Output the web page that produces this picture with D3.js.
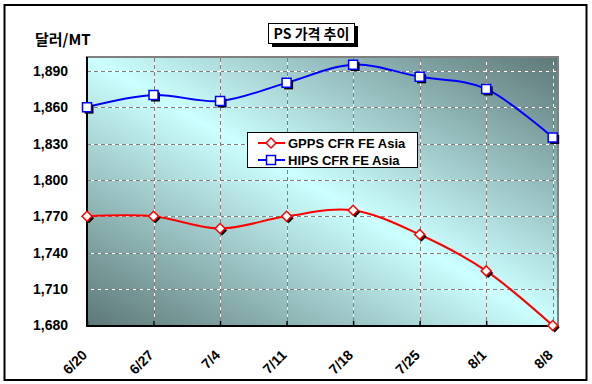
<!DOCTYPE html>
<html>
<head>
<meta charset="utf-8">
<script src="https://cdn.jsdelivr.net/npm/d3@7"></script>
<style>
  body { margin: 0; background: #fff; }
  text { font-family: "Liberation Sans", Arial, sans-serif; font-weight: bold; }
  .kr { font-family: "Noto Sans CJK KR", "Liberation Sans", sans-serif; font-weight: 700; }
</style>
</head>
<body>
<div id="chart"></div>
<script>
// data
var dates = ["6/20", "6/27", "7/4", "7/11", "7/18", "7/25", "8/1", "8/8"]
var gpps = [1770, 1770, 1760, 1770, 1775, 1755, 1725, 1680]
var hips = [1860, 1870, 1865, 1880, 1895, 1885, 1875, 1835]
var yTicks = [1680, 1710, 1740, 1770, 1800, 1830, 1860, 1890]
var seriesNames = ["GPPS CFR FE Asia", "HIPS CFR FE Asia"]

var width = 592, height = 384
var plot = { left: 87, top: 57, right: 558, bottom: 326 }

var svg = d3.select("#chart").append("svg")
  .attr("width", width)
  .attr("height", height)

var defs = svg.append("defs")
var grad = defs.append("linearGradient")
  .attr("id", "bg")
  .attr("x1", 0).attr("y1", 1)
  .attr("x2", 1).attr("y2", 0)
grad.append("stop").attr("offset", 0).attr("stop-color", "#5d7777")
grad.append("stop").attr("offset", 0.5).attr("stop-color", "#ccffff")
grad.append("stop").attr("offset", 1).attr("stop-color", "#5d7777")

// outer frame
svg.append("rect")
  .attr("x", 4.5).attr("y", 5)
  .attr("width", 582).attr("height", 375)
  .attr("fill", "white")
  .attr("stroke", "black")
  .attr("stroke-width", 2)

var x = d3.scalePoint().domain(dates).range([87, 552.7])
var y = d3.scaleLinear().domain([1680, 1900]).range([325.5, 58.6])

// plot area with gradient and grey border
svg.append("rect")
  .attr("x", plot.left).attr("y", plot.top)
  .attr("width", plot.right - plot.left).attr("height", plot.bottom - plot.top)
  .attr("fill", "url(#bg)")
  .attr("stroke", "#808080")
  .attr("stroke-width", 2)

// gridlines: grey + white dashes so they show on light and dark parts
var grid = svg.append("g")
function gridLine(x1, y1, x2, y2) {
  grid.append("line").attr("x1", x1).attr("y1", y1).attr("x2", x2).attr("y2", y2)
    .attr("stroke", "#808080").attr("stroke-dasharray", "4,3")
  grid.append("line").attr("x1", x1).attr("y1", y1).attr("x2", x2).attr("y2", y2)
    .attr("stroke", "#ffffff").attr("stroke-dasharray", "3,4").attr("stroke-dashoffset", -4)
}
yTicks.slice(1).forEach(function(t) { gridLine(plot.left, Math.round(y(t)) + 0.5, plot.right - 1, Math.round(y(t)) + 0.5) })
dates.slice(1).forEach(function(d) { gridLine(Math.round(x(d)) + 0.5, plot.top + 1, Math.round(x(d)) + 0.5, plot.bottom) })

// axes
var yAxis = svg.append("g")
  .attr("transform", "translate(" + plot.left + ",0)")
  .call(d3.axisLeft(y).tickValues(yTicks).tickSize(0).tickPadding(19).tickFormat(d3.format(",")))
yAxis.select(".domain").remove()
yAxis.selectAll("text").attr("font-size", 14).attr("fill", "black")
  .style("font-family", "'Liberation Sans', Arial, sans-serif")

var xAxis = svg.append("g")
  .attr("transform", "translate(0," + plot.bottom + ")")
  .call(d3.axisBottom(x).tickSize(-5).tickFormat(""))
xAxis.select(".domain").remove()
xAxis.selectAll("line").attr("stroke", "black").attr("stroke-width", 1.5)

svg.append("line").attr("x1", plot.left).attr("x2", plot.left)
  .attr("y1", plot.top).attr("y2", plot.bottom + 1)
  .attr("stroke", "black").attr("stroke-width", 2)
svg.append("line").attr("x1", plot.left - 1).attr("x2", 554)
  .attr("y1", plot.bottom).attr("y2", plot.bottom)
  .attr("stroke", "black").attr("stroke-width", 2)

// rotated date labels
svg.append("g").selectAll("text")
  .data(dates)
  .enter()
  .append("text")
  .attr("text-anchor", "end")
  .attr("font-size", 14)
  .attr("transform", function(d) { return "translate(" + (x(d) + 1) + ",356) rotate(-45)" })
  .text(function(d) { return d })

// smoothed series lines
var line = d3.line()
  .x(function(d, i) { return x(dates[i]) })
  .y(function(d) { return y(d) })
  .curve(d3.curveCatmullRom.alpha(0))

svg.append("path").datum(gpps)
  .attr("d", line).attr("fill", "none").attr("stroke", "#ff0000").attr("stroke-width", 2)
svg.append("path").datum(hips)
  .attr("d", line).attr("fill", "none").attr("stroke", "#0000ff").attr("stroke-width", 2)

var diamond = d3.symbol().type(d3.symbolSquare).size(50)
var square = d3.symbol().type(d3.symbolSquare).size(81)

// markers with black drop shadow
function markers(data, sym, rot, color) {
  var g = svg.append("g")
  g.selectAll(".shadow").data(data).enter().append("path")
    .attr("d", sym)
    .attr("transform", function(d, i) { return "translate(" + (x(dates[i]) + 2) + "," + (y(d) + 2) + ") rotate(" + rot + ")" })
    .attr("fill", "black")
  g.selectAll(".mark").data(data).enter().append("path")
    .attr("d", sym)
    .attr("transform", function(d, i) { return "translate(" + x(dates[i]) + "," + y(d) + ") rotate(" + rot + ")" })
    .attr("fill", "white")
    .attr("stroke", color)
    .attr("stroke-width", 1.5)
}
markers(gpps, diamond, 45, "#ff0000")
markers(hips, square, 0, "#0000ff")

// legend
var legend = svg.append("g")
legend.append("rect")
  .attr("x", 247.5).attr("y", 132.5).attr("width", 170).attr("height", 35)
  .attr("fill", "white").attr("stroke", "black")
var legendRows = [
  { name: seriesNames[0], color: "#ff0000", sym: diamond, rot: 45 },
  { name: seriesNames[1], color: "#0000ff", sym: square, rot: 0 }
]
legendRows.forEach(function(r, i) {
  var cy = 143 + i * 17
  legend.append("line").attr("x1", 258).attr("x2", 285).attr("y1", cy).attr("y2", cy)
    .attr("stroke", r.color).attr("stroke-width", 2)
  legend.append("path").attr("d", r.sym)
    .attr("transform", "translate(271," + cy + ") rotate(" + r.rot + ")")
    .attr("fill", "white").attr("stroke", r.color).attr("stroke-width", 1.5)
  legend.append("text").attr("x", 288).attr("y", cy + 5)
    .attr("font-size", 13).text(r.name)
})

// unit label and title box
svg.append("text").attr("class", "kr")
  .attr("x", 35).attr("y", 45).attr("font-size", 15)
  .text("달러/MT")

svg.append("rect").attr("x", 272).attr("y", 26).attr("width", 86).attr("height", 21).attr("fill", "black")
svg.append("rect").attr("x", 268.5).attr("y", 23.5).attr("width", 86).attr("height", 20)
  .attr("fill", "white").attr("stroke", "black")
svg.append("text").attr("class", "kr")
  .attr("x", 311.5).attr("y", 39).attr("text-anchor", "middle").attr("font-size", 14)
  .text("PS 가격 추이")
</script>
</body>
</html>
